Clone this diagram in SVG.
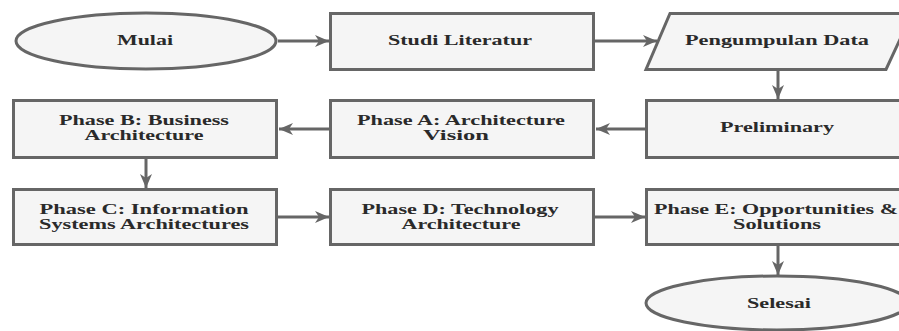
<svg xmlns="http://www.w3.org/2000/svg" width="899" height="331" viewBox="0 0 899 331">
<defs>
<marker id="arr" markerUnits="userSpaceOnUse" markerWidth="16" markerHeight="14" refX="14" refY="7" orient="auto">
<path d="M0,1 L14,7 L0,13 L4,7 z" fill="#666"/>
</marker>
<style>
.n{fill:#f5f5f5;stroke:#666;stroke-width:3}
.t{font-family:"Liberation Serif","Times New Roman",serif;font-weight:bold;font-size:15px;fill:#2a2a2a;text-anchor:middle}
.c{stroke:#666;stroke-width:3;fill:none;marker-end:url(#arr)}
</style>
</defs>
<rect width="899" height="331" fill="#fff"/>
<g id="connectors">
<line class="c" x1="278" y1="41" x2="329" y2="41"/>
<line class="c" x1="595" y1="41" x2="657" y2="41"/>
<line class="c" x1="778" y1="70" x2="778" y2="99"/>
<line class="c" x1="646" y1="129" x2="596" y2="129"/>
<line class="c" x1="330" y1="129" x2="279" y2="129"/>
<line class="c" x1="146" y1="158" x2="146" y2="188"/>
<line class="c" x1="278" y1="217" x2="329" y2="217"/>
<line class="c" x1="595" y1="217" x2="645" y2="217"/>
<line class="c" x1="778" y1="245" x2="778" y2="275"/>
</g>
<g id="mulai">
<ellipse class="n" cx="146" cy="41" rx="130" ry="28"/>
<text class="t" x="145" y="44.5" textLength="56" lengthAdjust="spacingAndGlyphs">Mulai</text>
</g>
<g id="studi">
<rect class="n" x="330.5" y="13.5" width="263" height="56"/>
<text class="t" x="460" y="45" textLength="144" lengthAdjust="spacingAndGlyphs">Studi Literatur</text>
</g>
<g id="pengumpulan">
<polygon class="n" points="670,13.5 912,13.5 886,69.5 646,69.5"/>
<text class="t" x="777" y="45" textLength="184" lengthAdjust="spacingAndGlyphs">Pengumpulan Data</text>
</g>
<g id="preliminary">
<rect class="n" x="646.5" y="100.5" width="264" height="57"/>
<text class="t" x="777" y="132" textLength="114" lengthAdjust="spacingAndGlyphs">Preliminary</text>
</g>
<g id="phaseA">
<rect class="n" x="330.5" y="100.5" width="263" height="57"/>
<text class="t" x="461" y="125" textLength="208" lengthAdjust="spacingAndGlyphs">Phase A: Architecture</text>
<text class="t" x="456" y="140" textLength="66" lengthAdjust="spacingAndGlyphs">Vision</text>
</g>
<g id="phaseB">
<rect class="n" x="13.5" y="100.5" width="263" height="57"/>
<text class="t" x="144" y="125" textLength="170" lengthAdjust="spacingAndGlyphs">Phase B: Business</text>
<text class="t" x="144" y="140" textLength="119" lengthAdjust="spacingAndGlyphs">Architecture</text>
</g>
<g id="phaseC">
<rect class="n" x="13.5" y="189.5" width="263" height="55"/>
<text class="t" x="144" y="214" textLength="209" lengthAdjust="spacingAndGlyphs">Phase C: Information</text>
<text class="t" x="144" y="229" textLength="210" lengthAdjust="spacingAndGlyphs">Systems Architectures</text>
</g>
<g id="phaseD">
<rect class="n" x="330.5" y="189.5" width="263" height="55"/>
<text class="t" x="460" y="214" textLength="197" lengthAdjust="spacingAndGlyphs">Phase D: Technology</text>
<text class="t" x="461" y="229" textLength="119" lengthAdjust="spacingAndGlyphs">Architecture</text>
</g>
<g id="phaseE">
<rect class="n" x="646.5" y="189.5" width="264" height="55"/>
<text class="t" x="776" y="214" textLength="244" lengthAdjust="spacingAndGlyphs">Phase E: Opportunities &amp;</text>
<text class="t" x="777" y="229" textLength="88" lengthAdjust="spacingAndGlyphs">Solutions</text>
</g>
<g id="selesai">
<ellipse class="n" cx="777" cy="303" rx="131" ry="27"/>
<text class="t" x="779" y="308" textLength="64" lengthAdjust="spacingAndGlyphs">Selesai</text>
</g>
</svg>
